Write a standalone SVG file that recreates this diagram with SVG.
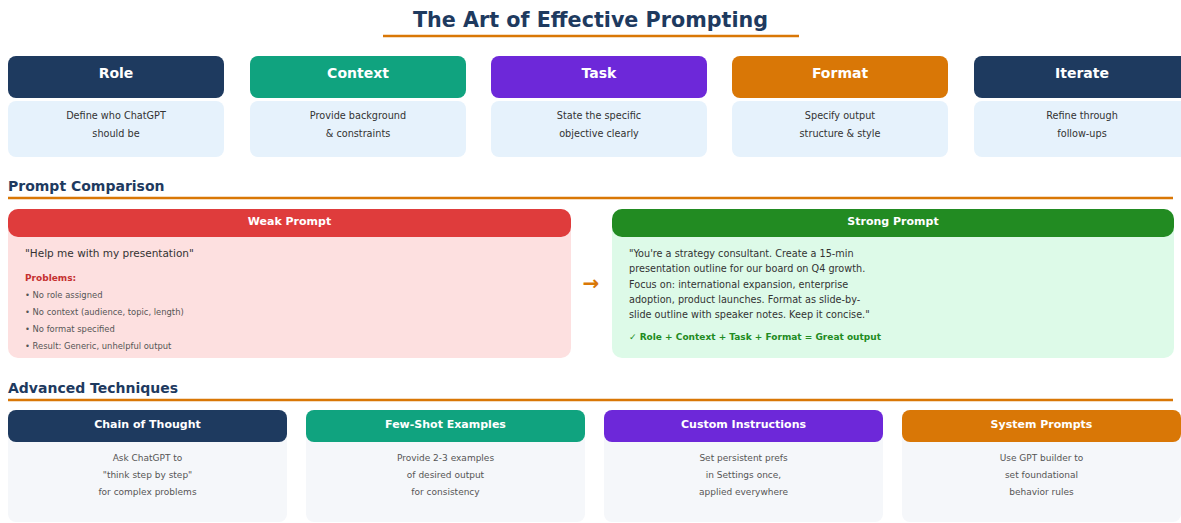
<svg xmlns="http://www.w3.org/2000/svg" width="1181" height="523" viewBox="0 0 1181 523">
<style>
text{font-family:"DejaVu Sans","Liberation Sans",sans-serif}
.title{font-size:20.7px;font-weight:bold;fill:#1E3A5F;text-anchor:middle}
.sec{font-size:14px;font-weight:bold;fill:#1E3A5F}
.hd{font-size:14px;font-weight:bold;fill:#fff;text-anchor:middle}
.hd2{font-size:11px;font-weight:bold;fill:#fff;text-anchor:middle}
.tb{font-size:9.7px;fill:#333;text-anchor:middle}
.bb{font-size:9px;fill:#555;text-anchor:middle}
.rule{stroke:#D97706;stroke-width:2.5}
.navy{fill:#1E3A5F}.teal{fill:#10A37F}.purple{fill:#6D28D9}.orange{fill:#D97706}
.tbody{fill:#E6F2FC}.bbody{fill:#F5F7FA}
</style>
<text class="title" x="590.5" y="27">The Art of Effective Prompting</text>
<line class="rule" x1="383" y1="36" x2="799" y2="36"/>

<g id="role">
<rect class="tbody" x="8" y="101" width="216" height="56" rx="8"/>
<rect class="navy" x="8" y="56" width="216" height="42" rx="8"/>
<text class="hd" x="116" y="78">Role</text>
<text class="tb" x="116" y="118.5">Define who ChatGPT</text>
<text class="tb" x="116" y="136.5">should be</text>
</g>
<g id="context">
<rect class="tbody" x="250" y="101" width="216" height="56" rx="8"/>
<rect class="teal" x="250" y="56" width="216" height="42" rx="8"/>
<text class="hd" x="358" y="78">Context</text>
<text class="tb" x="358" y="118.5">Provide background</text>
<text class="tb" x="358" y="136.5">&amp; constraints</text>
</g>
<g id="task">
<rect class="tbody" x="491" y="101" width="216" height="56" rx="8"/>
<rect class="purple" x="491" y="56" width="216" height="42" rx="8"/>
<text class="hd" x="599" y="78">Task</text>
<text class="tb" x="599" y="118.5">State the specific</text>
<text class="tb" x="599" y="136.5">objective clearly</text>
</g>
<g id="format">
<rect class="tbody" x="732" y="101" width="216" height="56" rx="8"/>
<rect class="orange" x="732" y="56" width="216" height="42" rx="8"/>
<text class="hd" x="840" y="78">Format</text>
<text class="tb" x="840" y="118.5">Specify output</text>
<text class="tb" x="840" y="136.5">structure &amp; style</text>
</g>
<g id="iterate">
<rect class="tbody" x="974" y="101" width="216" height="56" rx="8"/>
<rect class="navy" x="974" y="56" width="216" height="42" rx="8"/>
<text class="hd" x="1082" y="78">Iterate</text>
<text class="tb" x="1082" y="118.5">Refine through</text>
<text class="tb" x="1082" y="136.5">follow-ups</text>
</g>

<text class="sec" x="8" y="191">Prompt Comparison</text>
<line class="rule" x1="8" y1="198" x2="1173" y2="198"/>

<g id="weak">
<rect x="8" y="209" width="563" height="149" rx="10" fill="#FDE0E0"/>
<rect x="8" y="209" width="563" height="28" rx="10" fill="#DF3C3C"/>
<text class="hd2" x="289.5" y="225">Weak Prompt</text>
<text x="25" y="257" font-size="10.5" fill="#333">"Help me with my presentation"</text>
<text x="25" y="280.5" font-size="9" font-weight="bold" fill="#C53030">Problems:</text>
<g font-size="8.4" fill="#555">
<text x="25" y="297.5">• No role assigned</text>
<text x="25" y="314.5">• No context (audience, topic, length)</text>
<text x="25" y="331.5">• No format specified</text>
<text x="25" y="349">• Result: Generic, unhelpful output</text>
</g>
</g>

<g id="connectors">
<text x="591" y="290" font-size="20" font-weight="bold" fill="#D97706" text-anchor="middle">→</text>
</g>

<g id="strong">
<rect x="612" y="209" width="562" height="149" rx="10" fill="#DDFAE8"/>
<rect x="612" y="209" width="562" height="28" rx="10" fill="#228B22"/>
<text class="hd2" x="893" y="225">Strong Prompt</text>
<g font-size="9.7" fill="#333">
<text x="629" y="256.5">"You're a strategy consultant. Create a 15-min</text>
<text x="629" y="272">presentation outline for our board on Q4 growth.</text>
<text x="629" y="287.5">Focus on: international expansion, enterprise</text>
<text x="629" y="302.5">adoption, product launches. Format as slide-by-</text>
<text x="629" y="318">slide outline with speaker notes. Keep it concise."</text>
</g>
<text x="629" y="339.5" font-size="9" font-weight="bold" fill="#228B22">✓ Role + Context + Task + Format = Great output</text>
</g>

<text class="sec" x="8" y="393">Advanced Techniques</text>
<line class="rule" x1="8" y1="400" x2="1173" y2="400"/>

<g id="cot">
<rect class="bbody" x="8" y="410" width="279" height="112" rx="8"/>
<rect class="navy" x="8" y="410" width="279" height="32" rx="8"/>
<text class="hd2" x="147.5" y="428">Chain of Thought</text>
<text class="bb" x="147.5" y="461">Ask ChatGPT to</text>
<text class="bb" x="147.5" y="478">"think step by step"</text>
<text class="bb" x="147.5" y="495">for complex problems</text>
</g>
<g id="fewshot">
<rect class="bbody" x="306" y="410" width="279" height="112" rx="8"/>
<rect class="teal" x="306" y="410" width="279" height="32" rx="8"/>
<text class="hd2" x="445.5" y="428">Few-Shot Examples</text>
<text class="bb" x="445.5" y="461">Provide 2-3 examples</text>
<text class="bb" x="445.5" y="478">of desired output</text>
<text class="bb" x="445.5" y="495">for consistency</text>
</g>
<g id="custom">
<rect class="bbody" x="604" y="410" width="279" height="112" rx="8"/>
<rect class="purple" x="604" y="410" width="279" height="32" rx="8"/>
<text class="hd2" x="743.5" y="428">Custom Instructions</text>
<text class="bb" x="743.5" y="461">Set persistent prefs</text>
<text class="bb" x="743.5" y="478">in Settings once,</text>
<text class="bb" x="743.5" y="495">applied everywhere</text>
</g>
<g id="system">
<rect class="bbody" x="902" y="410" width="279" height="112" rx="8"/>
<rect class="orange" x="902" y="410" width="279" height="32" rx="8"/>
<text class="hd2" x="1041.5" y="428">System Prompts</text>
<text class="bb" x="1041.5" y="461">Use GPT builder to</text>
<text class="bb" x="1041.5" y="478">set foundational</text>
<text class="bb" x="1041.5" y="495">behavior rules</text>
</g>
</svg>
